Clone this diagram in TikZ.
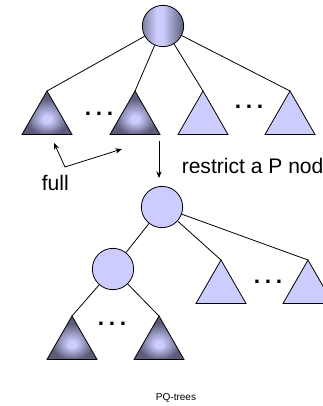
\documentclass[tikz,border=0pt]{standalone}
\usepackage{fontspec}
\setmainfont{Liberation Sans}
\usetikzlibrary{arrows.meta}

\definecolor{pqlight}{RGB}{204,204,255}
\definecolor{pqdark}{RGB}{92,92,122}
\definecolor{pqmid}{RGB}{128,128,158}

% full subtrees: light core fading to dark sides
\pgfdeclareradialshading{pqfull}{\pgfpoint{0bp}{-8bp}}{%
  color(0bp)=(pqlight); color(4bp)=(pqlight); color(21bp)=(pqdark); color(50bp)=(pqdark)}
% the root P node: lit from the left
\pgfdeclarehorizontalshading{pqroot}{100bp}{%
  color(0bp)=(pqmid); color(25bp)=(pqmid); color(42bp)=(pqlight); color(50bp)=(pqlight);
  color(75bp)=(pqdark); color(100bp)=(pqdark)}

\tikzset{
  pqedge/.style={line width=0.6pt, draw=black},
  pnode/.style={circle, minimum size=31, inner sep=0pt, pqedge, fill=pqlight},
  proot/.style={pnode, shading=pqroot},
  pics/fulltri/.style={code={%
    \shadedraw[pqedge, shading=pqfull] (0,0) -- (-25,43.5) -- (25,43.5) -- cycle;}},
  pics/emptytri/.style={code={%
    \filldraw[pqedge, fill=pqlight] (0,0) -- (-25,43.5) -- (25,43.5) -- cycle;}},
  pqlabel/.style={inner sep=0pt, font=\fontsize{15.8pt}{18pt}\selectfont},
  pqcaption/.style={inner sep=0pt, font=\fontsize{7.5pt}{9pt}\selectfont},
  pqdots/.style={inner sep=0pt, anchor=base, font=\bfseries\fontsize{17pt}{20pt}\selectfont},
  pqarrow/.style={line width=0.6pt, -{Stealth[length=5pt,width=4pt]}},
  pqboth/.style={line width=0.6pt, {Stealth[length=5pt,width=4pt]}-{Stealth[length=5pt,width=4pt]}},
}

\newcommand\pqellipsis{.\kern3.5pt.\kern3.5pt.}

\begin{document}
\begin{tikzpicture}[x=0.75pt,y=-0.75pt]
  \path[use as bounding box] (0,0) rectangle (323,406);
  \clip (0,0) rectangle (323,406);

  % ---- upper tree: P node with two full and two empty children
  \coordinate (t1) at (47,91);
  \coordinate (t2) at (135,91);
  \coordinate (t3) at (203,91);
  \coordinate (t4) at (290,91);
  \pic at (t1) {fulltri};
  \pic at (t2) {fulltri};
  \pic at (t3) {emptytri};
  \pic at (t4) {emptytri};
  \node[proot] (r1) at (163,26) {};
  \foreach \t in {t1,t2,t3,t4} \draw[pqedge] (r1) -- (\t);
  \node[pqdots] (d1) at (99,115.5) {\pqellipsis};
  \node[pqdots] (d2) at (249,108.5) {\pqellipsis};

  % ---- annotations
  \coordinate (fa) at (54,143);
  \coordinate (fc) at (65,167);
  \coordinate (fb) at (122,149);
  \draw[pqboth] (fa) -- (fc) -- (fb);
  \node[pqlabel, anchor=base west] (full) at (41.5,190) {full};
  \coordinate (va) at (159,141);
  \coordinate (vb) at (159,178);
  \draw[pqarrow] (va) -- (vb);
  \node[pqlabel, anchor=base west] (restrict) at (181.5,173) {restrict a P node};

  % ---- lower tree after restriction
  \coordinate (u1) at (221,260);
  \coordinate (u2) at (308,260);
  \coordinate (w1) at (72,316);
  \coordinate (w2) at (159,316);
  \pic at (u1) {emptytri};
  \pic at (u2) {emptytri};
  \pic at (w1) {fulltri};
  \pic at (w2) {fulltri};
  \node[pnode] (r2) at (162,207) {};
  \node[pnode] (c2) at (113,269) {};
  \draw[pqedge] (r2) -- (c2);
  \draw[pqedge] (r2) -- (u1);
  \draw[pqedge] (r2) -- (u2);
  \draw[pqedge] (c2) -- (w1);
  \draw[pqedge] (c2) -- (w2);
  \node[pqdots] (d3) at (268,283.5) {\pqellipsis};
  \node[pqdots] (d4) at (112,325.5) {\pqellipsis};

  \node[pqcaption, anchor=base] (caption) at (176,400) {PQ-trees};
\end{tikzpicture}
\end{document}
